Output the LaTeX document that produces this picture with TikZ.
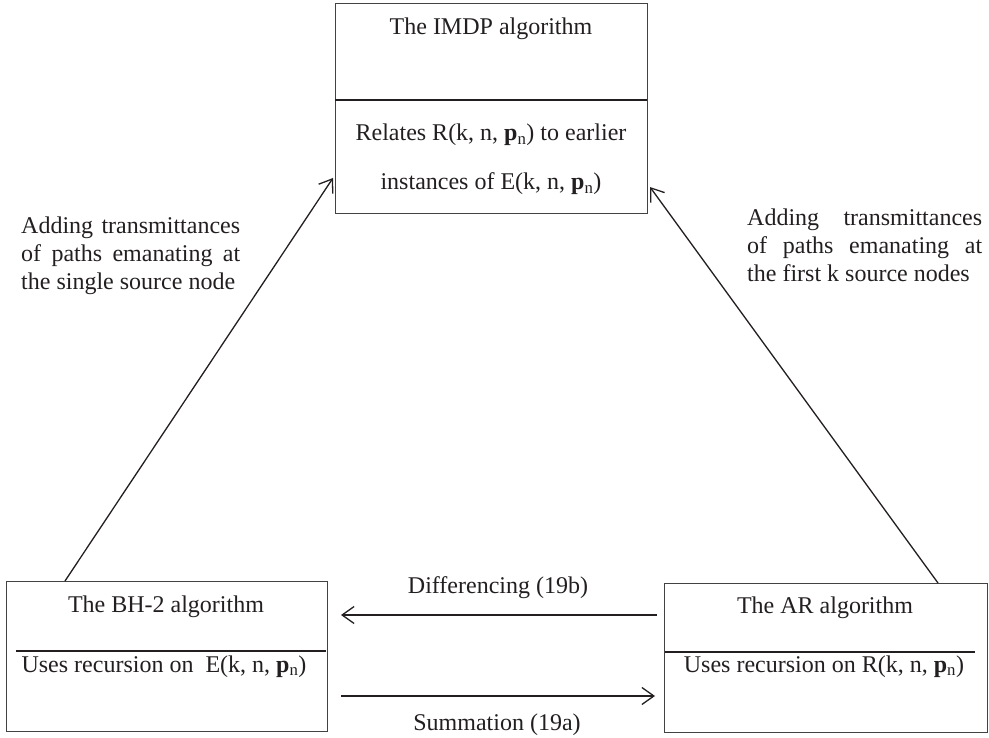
\documentclass[tikz,border=0pt]{standalone}
\usepackage{fontspec}
\setmainfont{Liberation Serif}
\usetikzlibrary{arrows.meta,calc}

\definecolor{ink}{HTML}{231F20}

\newcommand{\pn}{\textbf{p}\textsubscript{n}}

\begin{document}
\begin{tikzpicture}[x=1pt,y=-1pt,
  every node/.style={text=ink,font=\fontsize{24}{28}\selectfont},
  box/.style={draw=ink!85,line width=0.9pt,inner sep=0pt,outer sep=0pt},
  divider/.style={draw=ink,line width=1.8pt},
  txt/.style={anchor=base,inner sep=0pt},
  ltxt/.style={anchor=base west,inner sep=0pt},
  link/.style={draw=ink,line width=1.3pt,-{Straight Barb[length=12pt,width=17pt,line width=1.3pt]}}]

\useasboundingbox (0,0) rectangle (989,738);

% the three algorithm boxes
\node[box,minimum width=312pt,minimum height=210pt] (imdp) at (491,108) {};
\node[box,minimum width=321pt,minimum height=150pt] (bh) at (166.5,656) {};
\node[box,minimum width=323pt,minimum height=149pt] (ar) at (825.5,657.5) {};

% dividers between name and description
\draw[divider] (imdp.west |- 0,100) -- (imdp.east |- 0,100);
\draw[divider] (16,651) -- (326,651);
\draw[divider] (665,652) -- (975,652);

% box texts
\node[txt] (imdpT) at (491,35) {The IMDP algorithm};
\node[txt] (imdpA) at (491,141) {Relates R(k, n, \pn) to earlier};
\node[txt] (imdpB) at (491,190) {instances of E(k, n, \pn)};

\node[txt] (bhT) at (166,612) {The BH-2 algorithm};
\node[txt] (bhD) at (164,672) {Uses recursion on\ \ E(k, n, \pn)};

\node[txt] (arT) at (825,613) {The AR algorithm};
\node[txt] (arD) at (824,672) {Uses recursion on R(k, n, \pn)};

% connector end points
\coordinate (bhTop) at (65,581);
\coordinate (imdpL) at (333,178);
\coordinate (arTop) at (938,583);
\coordinate (imdpR) at (650,187);
\coordinate (arDiffOut) at (657,615);
\coordinate (bhDiffIn) at (341,615);
\coordinate (bhSumOut) at (341,696);
\coordinate (arSumIn) at (655,696);

\draw[link] (bhTop) -- (imdpL);
\draw[link] (arTop) -- (imdpR);
\draw[link] (arDiffOut) -- (bhDiffIn);
\draw[link] (bhSumOut) -- (arSumIn);

% connector labels
\node[txt] (diffL) at (498,593) {Differencing (19b)};
\node[txt] (sumL) at (497,730) {Summation (19a)};

\node[ltxt] (leftA) at (21,234) {\makebox[219pt][s]{Adding transmittances}};
\node[ltxt] (leftB) at (21,262) {\makebox[219pt][s]{of paths emanating at}};
\node[ltxt] (leftC) at (21,290) {the single source node};

\node[ltxt] (rightA) at (747,226) {\makebox[235pt][s]{Adding transmittances}};
\node[ltxt] (rightB) at (747,254) {\makebox[235pt][s]{of paths emanating at}};
\node[ltxt] (rightC) at (747,282) {the first k source nodes};

\end{tikzpicture}
\end{document}
